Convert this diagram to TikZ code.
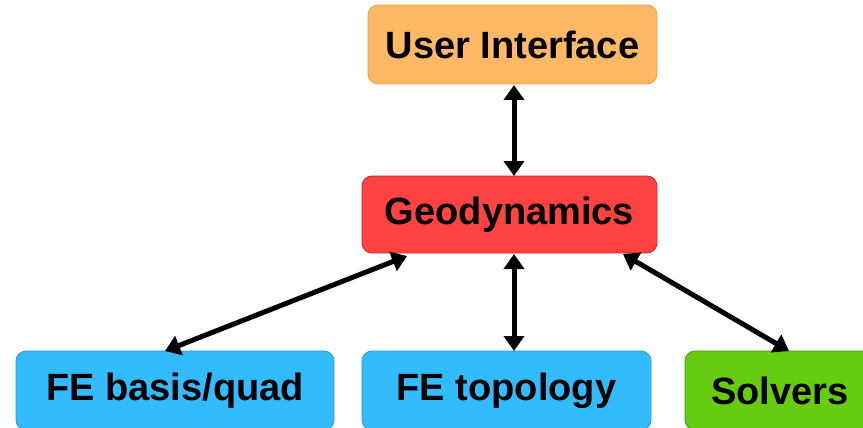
\documentclass[tikz,border=0pt]{standalone}
\usepackage{fontspec}
\setmainfont{Liberation Sans}
\usetikzlibrary{arrows.meta}
\definecolor{uifill}{HTML}{FFB866}
\definecolor{uidraw}{HTML}{F0A040}
\definecolor{geofill}{HTML}{FF4242}
\definecolor{geodraw}{HTML}{CC2222}
\definecolor{fefill}{HTML}{33BBFF}
\definecolor{fedraw}{HTML}{2A9AD0}
\definecolor{solfill}{HTML}{66CC11}
\definecolor{soldraw}{HTML}{4A9A0A}
\tikzset{
  box/.style={rounded corners=10pt, line width=0.8pt, minimum height=79pt, inner sep=0pt,
    font=\fontsize{38}{44}\selectfont\bfseries, text=black},
  link/.style={line width=5pt, {Triangle[length=15pt,width=20pt]}-{Triangle[length=15pt,width=20pt]}}
}
\begin{document}
\begin{tikzpicture}[x=1pt,y=-1pt]
\useasboundingbox (0,0) rectangle (863,428);
\node[box, fill=uifill, draw=uidraw, minimum width=289pt] (ui) at (512.5,44.5) {User Interface};
\node[box, fill=geofill, draw=geodraw, minimum width=295pt, minimum height=77pt] (geo) at (509.5,214.5) {Geodynamics};
\node[box, fill=fefill, draw=fedraw, minimum width=318pt] (basis) at (175,390.5) {FE basis/quad};
\node[box, fill=fefill, draw=fedraw, minimum width=289pt] (topo) at (506.5,390.5) {FE topology};
\node[box, fill=solfill, draw=soldraw, minimum width=190pt] (sol) at (780,390.5) {Solvers};
\coordinate (uib) at (514,85);
\coordinate (geot) at (514,176);
\coordinate (geob) at (514,254);
\coordinate (topot) at (514,351);
\coordinate (geol) at (407,256);
\coordinate (basist) at (165,351);
\coordinate (geor) at (623,254);
\coordinate (solt) at (789,351);
\draw[link] (uib) -- (geot);
\draw[link] (geob) -- (topot);
\draw[link] (geol) -- (basist);
\draw[link] (geor) -- (solt);
\end{tikzpicture}
\end{document}
